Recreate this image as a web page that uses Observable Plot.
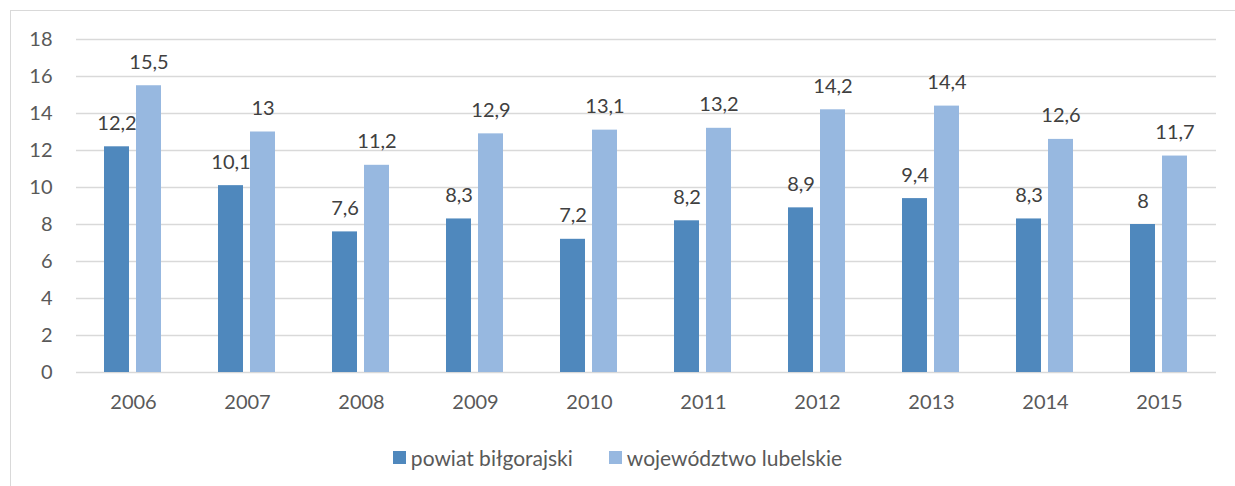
<!DOCTYPE html>
<html>
<head>
<meta charset="utf-8">
<script src="https://cdn.jsdelivr.net/npm/d3@7"></script>
<script src="https://cdn.jsdelivr.net/npm/@observablehq/plot@0.6"></script>
<style>
  body { margin: 0; background: #fff; font-family: Lato, "Open Sans", sans-serif; }
  #frame { position: absolute; left: 10px; top: 10px; width: 1225px; height: 476px;
           border-left: 1.5px solid #d9d9d9; border-top: 1.5px solid #d9d9d9; box-sizing: border-box; }
  #chart { position: absolute; left: 0; top: 0; }
  #legend { position: absolute; left: 0; width: 1235px; top: 445px; display: flex; justify-content: center;
            gap: 36px; font-size: 21px; color: #595959; box-sizing: border-box; }
  .item { display: flex; align-items: center; gap: 5px; }
  .sw { width: 13px; height: 13px; display: inline-block; }
</style>
</head>
<body>
<div id="frame"></div>
<div id="chart"></div>
<div id="legend"></div>
<script>
const years = ["2006","2007","2008","2009","2010","2011","2012","2013","2014","2015"];
const seriesNames = ["powiat biłgorajski", "województwo lubelskie"];
const powiat = [12.2, 10.1, 7.6, 8.3, 7.2, 8.2, 8.9, 9.4, 8.3, 8];
const wojewodztwo = [15.5, 13, 11.2, 12.9, 13.1, 13.2, 14.2, 14.4, 12.6, 11.7];
const yTicks = [0, 2, 4, 6, 8, 10, 12, 14, 16, 18];
const colors = ["#4f88bd", "#97b8e0"];

const data = [];
years.forEach((y, i) => {
  data.push({year: y, series: seriesNames[0], value: powiat[i]});
  data.push({year: y, series: seriesNames[1], value: wojewodztwo[i]});
});
const fmt = v => String(v).replace(".", ",");

const chart = Plot.plot({
  width: 1235,
  height: 430,
  marginLeft: 74,
  marginRight: 18,
  marginTop: 39,
  marginBottom: 58,
  style: { fontFamily: "Lato, 'Open Sans', sans-serif", background: "transparent" },
  fx: { domain: years, padding: 0, label: null },
  x: { domain: seriesNames, paddingInner: 0.215, paddingOuter: 0.866, axis: null },
  y: { domain: [0, 18], ticks: yTicks, label: null },
  color: { domain: seriesNames, range: colors },
  marks: [
    Plot.gridY(yTicks, { stroke: "#d9d9d9", strokeOpacity: 1, strokeWidth: 1.5 }),
    Plot.axisY(yTicks, { tickSize: 0, tickPadding: 24, fontSize: 20, fill: "#595959", label: null }),
    Plot.axisFx({ anchor: "bottom", tickSize: 0, tickPadding: 22, fontSize: 20, fill: "#595959", label: null }),
    Plot.barY(data, { fx: "year", x: "series", y: "value", fill: "series" }),
    Plot.text(data, { fx: "year", x: "series", y: "value", text: d => fmt(d.value),
      lineAnchor: "bottom", dy: -17, fontSize: 20, fill: "#404040" })
  ]
});
document.getElementById("chart").appendChild(chart);

const legend = document.getElementById("legend");
seriesNames.forEach((s, i) => {
  const it = document.createElement("div");
  it.className = "item";
  const sw = document.createElement("span");
  sw.className = "sw";
  sw.style.background = colors[i];
  const t = document.createElement("span");
  t.textContent = s;
  it.appendChild(sw); it.appendChild(t);
  legend.appendChild(it);
});
</script>
</body>
</html>
